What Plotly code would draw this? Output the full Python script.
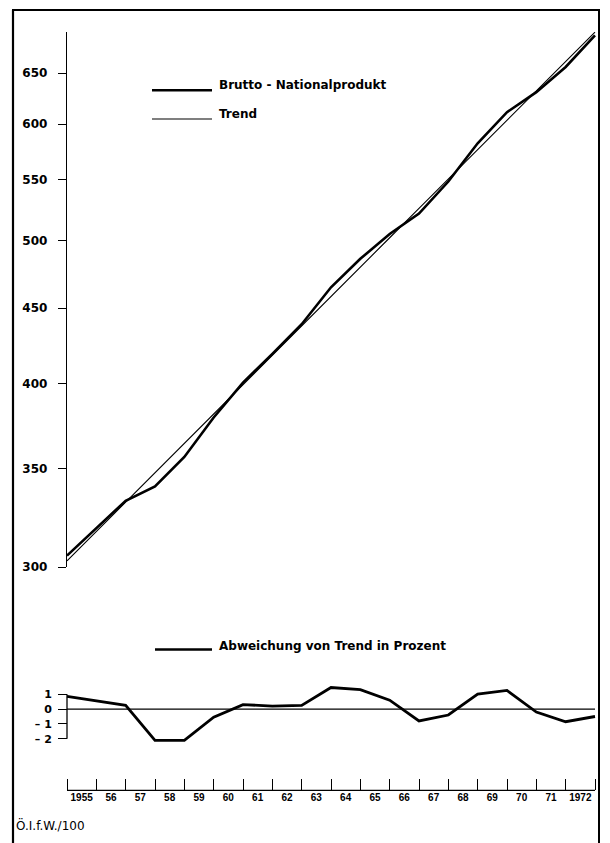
import math
import plotly.graph_objects as go

W, H = 610, 843

# ---- data ----
x_obs = [1954.5, 1955.5, 1956.5, 1957.5, 1958.5, 1959.5, 1960.5, 1961.5, 1962.5, 1963.5,
         1964.5, 1965.5, 1966.5, 1967.5, 1968.5, 1969.5, 1970.5, 1971.5, 1972.5]
year_pos = [1955, 1956, 1957, 1958, 1959, 1960, 1961, 1962, 1963, 1964,
            1965, 1966, 1967, 1968, 1969, 1970, 1971, 1972]
year_labels = ["1955", "56", "57", "58", "59", "60", "61", "62", "63", "64",
               "65", "66", "67", "68", "69", "70", "71", "1972"]
bnp = [305.5, 318.8, 332.9, 340.5, 356.5, 379.2, 400.5, 418.9, 438.8, 464.9,
       486.1, 505.4, 521.8, 548.6, 582.4, 611.5, 630.9, 656.3, 689.6]
trend = [303.0, 317.3, 332.2, 347.8, 364.2, 381.3, 399.2, 418.0, 437.7, 458.3,
         479.8, 502.4, 526.0, 550.8, 576.7, 603.8, 632.2, 662.0, 693.1]
deviation = [0.85, 0.55, 0.25, -2.1, -2.1, -0.55, 0.3, 0.2, 0.25, 1.45,
             1.3, 0.6, -0.8, -0.4, 1.0, 1.25, -0.2, -0.85, -0.5]
y_ticks = [300, 350, 400, 450, 500, 550, 600, 650]
y_tick_labels = ["300", "350", "400", "450", "500", "550", "600", "650"]
dev_ticks = [1, 0, -1, -2]
dev_tick_labels = ["1", "0", "\u2013 1", "\u2013 2"]

# ---- helpers for pixel -> paper ----
def px(x):
    return x / W

def py(y):
    return 1 - y / H

FONT = "Liberation Sans, Arial, sans-serif"
FONT_WIDE = "DejaVu Sans, Verdana, sans-serif"
x_range = [1954.3, 1972.7]
x_dom = [px(61.13), px(600.87)]

fig = go.Figure()
fig.add_trace(go.Scatter(x=x_obs, y=bnp, mode="lines", xaxis="x", yaxis="y",
                         line=dict(color="black", width=2.6), showlegend=False,
                         name="Brutto-Nationalprodukt"))
fig.add_trace(go.Scatter(x=x_obs, y=trend, mode="lines", xaxis="x", yaxis="y",
                         line=dict(color="black", width=1.1), showlegend=False,
                         name="Trend"))
fig.add_trace(go.Scatter(x=x_obs, y=deviation, mode="lines", xaxis="x2", yaxis="y2",
                         line=dict(color="black", width=2.8), showlegend=False,
                         name="Abweichung"))

shapes = []
# frame
shapes.append(dict(type="line", xref="paper", yref="paper", x0=px(13), x1=px(13), y0=py(10), y1=-0.01,
                   line=dict(color="black", width=2.2)))
shapes.append(dict(type="line", xref="paper", yref="paper", x0=px(12), x1=px(600), y0=py(10), y1=py(10),
                   line=dict(color="black", width=2)))
shapes.append(dict(type="line", xref="paper", yref="paper", x0=px(599), x1=px(599), y0=py(10), y1=-0.01,
                   line=dict(color="black", width=2)))
# legend samples
shapes.append(dict(type="line", xref="paper", yref="paper", x0=px(152), x1=px(212), y0=py(91), y1=py(91),
                   line=dict(color="black", width=2.6)))
shapes.append(dict(type="line", xref="paper", yref="paper", x0=px(152), x1=px(212), y0=py(120), y1=py(120),
                   line=dict(color="black", width=1.2)))
shapes.append(dict(type="line", xref="paper", yref="paper", x0=px(155), x1=px(212), y0=py(655), y1=py(655),
                   line=dict(color="black", width=2.6)))
# zero line in deviation panel
shapes.append(dict(type="line", xref="x2", yref="y2", x0=x_obs[0], x1=x_obs[-1], y0=0, y1=0,
                   line=dict(color="black", width=1.3)))
# deviation axis bracket
shapes.append(dict(type="line", xref="paper", yref="y2", x0=px(67), x1=px(67),
                   y0=dev_ticks[-1], y1=dev_ticks[0], line=dict(color="black", width=1.3)))
# bottom baseline of time axis
shapes.append(dict(type="line", xref="x2", yref="paper", x0=x_obs[0], x1=x_obs[-1],
                   y0=py(797), y1=py(797), line=dict(color="black", width=1.3)))

annotations = [
    dict(text="Brutto - Nationalprodukt", x=px(217), y=py(86), xref="paper", yref="paper",
         xanchor="left", yanchor="middle", showarrow=False,
         font=dict(family=FONT_WIDE, size=12, color="black", weight="bold")),
    dict(text="Trend", x=px(217), y=py(115), xref="paper", yref="paper",
         xanchor="left", yanchor="middle", showarrow=False,
         font=dict(family=FONT_WIDE, size=12, color="black", weight="bold")),
    dict(text="Abweichung von Trend in Prozent", x=px(217), y=py(651), xref="paper", yref="paper",
         xanchor="left", yanchor="middle", showarrow=False,
         font=dict(family=FONT_WIDE, size=12, color="black", weight="bold")),
    dict(text="Ö.I.f.W./100", x=px(14), y=py(832), xref="paper", yref="paper",
         xanchor="left", yanchor="middle", showarrow=False,
         font=dict(family=FONT_WIDE, size=12, color="black")),
]

fig.update_layout(
    width=W, height=H,
    margin=dict(l=0, r=0, t=0, b=0),
    paper_bgcolor="white", plot_bgcolor="rgba(0,0,0,0)",
    showlegend=False,
    shapes=shapes, annotations=annotations,
    xaxis=dict(domain=x_dom, range=x_range, visible=False, anchor="y"),
    yaxis=dict(domain=[py(572), py(32)], type="log",
               range=[math.log10(300), math.log10(693.5)],
               anchor="free", position=px(66),
               tickvals=y_ticks, ticktext=y_tick_labels,
               ticks="outside", ticklen=8, tickwidth=1.3, tickcolor="black",
               showline=True, linecolor="black", linewidth=1.4,
               showgrid=False, zeroline=False,
               tickfont=dict(family=FONT_WIDE, size=12, color="black", weight="bold"),
               ticklabelstandoff=8),
    xaxis2=dict(domain=x_dom, range=x_range, anchor="free", position=py(797),
                tickvals=year_pos, ticktext=year_labels, ticks="",
                minor=dict(tickvals=x_obs, ticks="inside", ticklen=11, tickwidth=1.3,
                           tickcolor="black", showgrid=False),
                showline=False, showgrid=False, zeroline=False,
                tickfont=dict(family=FONT, size=10, color="black", weight="bold")),
    yaxis2=dict(domain=[py(760), py(685)], range=[-3, 2],
                anchor="free", position=px(67),
                tickvals=dev_ticks, ticktext=dev_tick_labels,
                ticks="outside", ticklen=9, tickwidth=1.3, tickcolor="black",
                showline=False, showgrid=False, zeroline=False,
                tickfont=dict(family=FONT_WIDE, size=11, color="black", weight="bold"),
                ticklabelstandoff=4),
)

fig.write_html("out.html", config={"displayModeBar": False},
               post_script="document.body.style.margin='0';")
